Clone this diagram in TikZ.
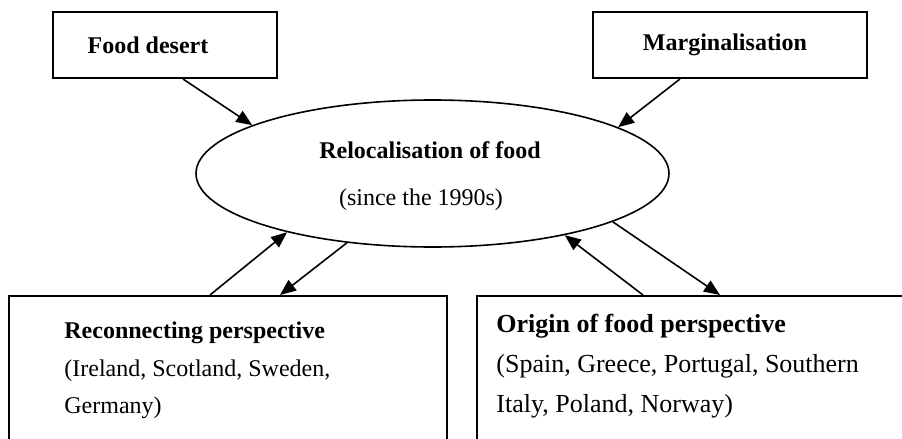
\documentclass[tikz,border=0pt]{standalone}
\usepackage{fontspec}
\setmainfont{Liberation Serif}
\usetikzlibrary{arrows.meta,shapes.geometric}
\begin{document}
\begin{tikzpicture}[x=0.5pt,y=-0.5pt,
  box/.style={draw,line width=1pt,rectangle,inner sep=0pt},
  txt/.style={inner sep=0pt,font=\fontsize{12}{14}\selectfont},
  btxt/.style={inner sep=0pt,font=\fontsize{12}{14}\selectfont\bfseries},
  link/.style={-{Triangle[length=8pt,width=6.5pt]},line width=0.8pt}]
\clip (0,0) rectangle (902,439);

\node[box,minimum width=112pt,minimum height=33pt] (fd) at (165,45) {};
\node[btxt] (fdtext) at (148,45) {Food desert};
\node[box,minimum width=137pt,minimum height=33pt] (mg) at (730,45) {};
\node[btxt] (mgtext) at (725,45) {Marginalisation};

\node[ellipse,draw,line width=0.8pt,minimum width=236.5pt,minimum height=73.5pt,
  inner sep=0pt] (rel) at (432.5,173.5) {};
\node[btxt] (reltitle) at (430,150) {Relocalisation of food};
\node[txt] (relsub) at (421,200) {(since the 1990s)};

\node[box,minimum width=219pt,minimum height=87pt] (recon) at (228,383) {};
\node[btxt,anchor=west] (recontitle) at (64,333) {Reconnecting perspective};
\node[txt,anchor=west] (reconline1) at (64,371) {(Ireland, Scotland, Sweden,};
\node[txt,anchor=west] (reconline2) at (64,408) {Germany)};

\node[box,minimum width=221.5pt,minimum height=87pt] (orig) at (698.5,383) {};
\node[btxt,anchor=west,font=\fontsize{13}{15}\selectfont\bfseries] (origtitle)
  at (496,326) {Origin of food perspective};
\node[txt,anchor=west,font=\fontsize{13}{15}\selectfont] (origline1)
  at (496,366) {(Spain, Greece, Portugal, Southern};
\node[txt,anchor=west,font=\fontsize{13}{15}\selectfont] (origline2)
  at (496,406) {Italy, Poland, Norway)};

\draw[link] ([xshift=9pt]fd.south) -- (rel.165.5);
\draw[link] ([xshift=-25pt]mg.south) -- (rel.14.7);
\draw[link] ([xshift=-9pt]recon.north) -- (rel.202.7);
\draw[link] (rel.219.4) -- ([xshift=26pt]recon.north);
\draw[link] ([xshift=-27.75pt]orig.north) -- (rel.335.4);
\draw[link] (rel.345.9) -- ([xshift=10.75pt]orig.north);
\end{tikzpicture}
\end{document}
